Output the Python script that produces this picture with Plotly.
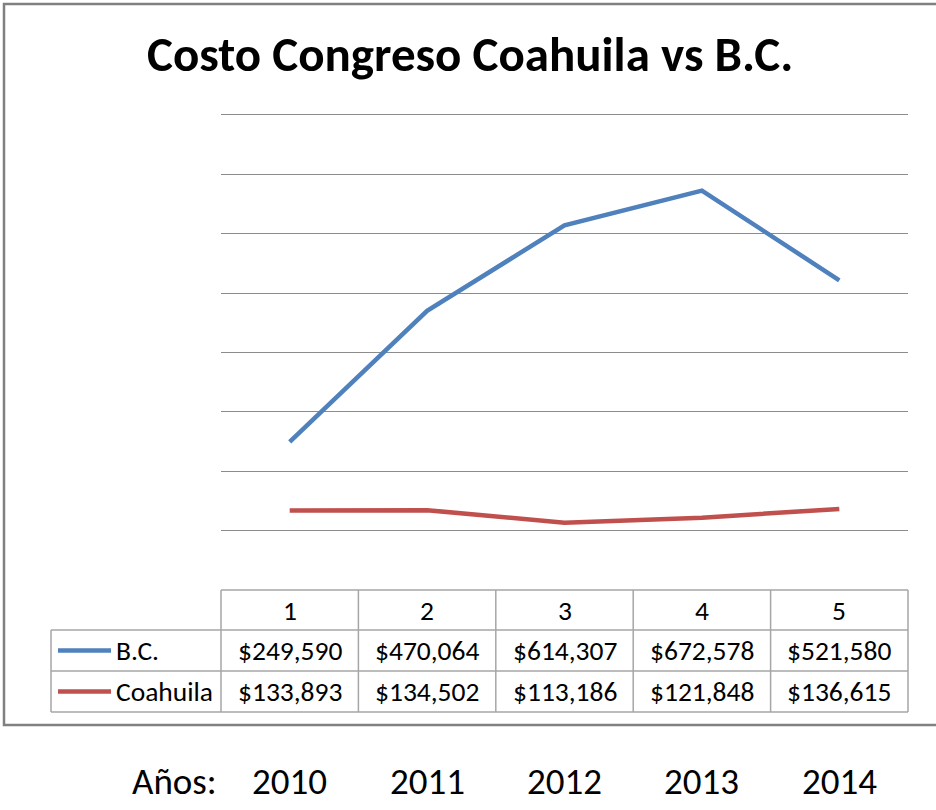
import plotly.graph_objects as go

# ---- data ----
categories = [1, 2, 3, 4, 5]
series_names = ["B.C.", "Coahuila"]
bc_values = [249590, 470064, 614307, 672578, 521580]
coahuila_values = [133893, 134502, 113186, 121848, 136615]
year_labels = ["2010", "2011", "2012", "2013", "2014"]
title_text = "Costo Congreso Coahuila vs B.C."
years_prefix = "Años:"

colors = ["#4F81BD", "#C0504D"]
FONT = "Carlito, Calibri, Lato, sans-serif"

W, H = 936, 810
def px(x):
    return x / W
def py(y):
    return 1 - y / H

# plot area in pixels (axis max 800000 at y=115, zero at y=590)
PL, PR, PT, PB = 221, 908, 115, 590
YMAX, YPAD = 800000, 3000
pt_ext = PT - (PB - PT) * YPAD / YMAX
xdom = [px(PL), px(PR)]
ydom = [py(PB), py(pt_ext)]

fig = go.Figure()
for name, vals, col in zip(series_names, [bc_values, coahuila_values], colors):
    fig.add_trace(go.Scatter(x=categories, y=vals, mode="lines", name=name,
                             line=dict(color=col, width=4.5), showlegend=False,
                             hoverinfo="x+y"))

shapes = []
annotations = []

# outer frame
shapes.append(dict(type="rect", xref="paper", yref="paper", x0=px(4), x1=px(945),
                   y0=py(725), y1=py(4), line=dict(color="#808080", width=2.5),
                   fillcolor="rgba(0,0,0,0)", layer="below"))

# table geometry
row_y = [590, 630, 671, 712]
legend_left = 51
n = len(categories)
def colx(i):  # boundary i in 0..n
    return xdom[0] + i / n * (xdom[1] - xdom[0])

tcol = "#A6A6A6"
shapes.append(dict(type="line", xref="paper", yref="paper", x0=colx(0), x1=colx(n),
                   y0=py(row_y[0]), y1=py(row_y[0]), line=dict(color=tcol, width=1.5)))
for yy in row_y[1:]:
    shapes.append(dict(type="line", xref="paper", yref="paper", x0=px(legend_left), x1=colx(n),
                       y0=py(yy), y1=py(yy), line=dict(color=tcol, width=1.5)))
for i in range(n + 1):
    shapes.append(dict(type="line", xref="paper", yref="paper", x0=colx(i), x1=colx(i),
                       y0=py(row_y[0]), y1=py(row_y[3]), line=dict(color=tcol, width=1.5)))
shapes.append(dict(type="line", xref="paper", yref="paper", x0=px(legend_left), x1=px(legend_left),
                   y0=py(row_y[1]), y1=py(row_y[3]), line=dict(color=tcol, width=1.5)))

cell_font = dict(family=FONT, size=27.5, color="#000000")
for c in categories:
    annotations.append(dict(x=c, xref="x", y=py((row_y[0] + row_y[1]) / 2), yref="paper",
                            text=str(c), showarrow=False, font=cell_font,
                            xanchor="center", yanchor="middle"))
for r, (name, vals, col) in enumerate(zip(series_names, [bc_values, coahuila_values], colors)):
    yc = py((row_y[r + 1] + row_y[r + 2]) / 2)
    for c, v in zip(categories, vals):
        annotations.append(dict(x=c, xref="x", y=yc, yref="paper",
                                text="${:,}".format(v), showarrow=False, font=cell_font,
                                xanchor="center", yanchor="middle"))
    shapes.append(dict(type="line", xref="paper", yref="paper", x0=px(58), x1=px(111),
                       y0=yc, y1=yc, line=dict(color=col, width=4.5)))
    annotations.append(dict(x=px(114), xref="paper", y=yc, yref="paper", text=name,
                            showarrow=False, font=cell_font, xanchor="left", yanchor="middle"))

# title
annotations.append(dict(x=px(470), xref="paper", y=py(54), yref="paper", text="<b>" + title_text + "</b>",
                        showarrow=False, font=dict(family=FONT, size=49, color="#000000"),
                        xanchor="center", yanchor="middle"))

# years caption below chart
yfont = dict(family=FONT, size=37, color="#000000")
annotations.append(dict(x=px(174), xref="paper", y=py(781), yref="paper", text=years_prefix,
                        showarrow=False, font=yfont, xanchor="center", yanchor="middle"))
for c, lab in zip(categories, year_labels):
    annotations.append(dict(x=c, xref="x", y=py(781), yref="paper", text=lab,
                            showarrow=False, font=yfont, xanchor="center", yanchor="middle"))

fig.update_layout(
    width=W, height=H,
    margin=dict(l=0, r=0, t=0, b=0),
    paper_bgcolor="white", plot_bgcolor="white",
    shapes=shapes, annotations=annotations,
    xaxis=dict(domain=xdom, range=[0.5, 5.5], showgrid=False, zeroline=False,
               showticklabels=False, showline=False, ticks=""),
    yaxis=dict(domain=ydom, range=[0, YMAX + YPAD], dtick=100000, tick0=0, showgrid=True,
               gridcolor="#8C8C8C", gridwidth=1.2, zeroline=False,
               showticklabels=False, showline=False, ticks=""),
    showlegend=False,
)

fig.write_html("out.html", config={"displayModeBar": False},
               post_script="document.body.style.margin='0';document.body.style.overflow='hidden';")
